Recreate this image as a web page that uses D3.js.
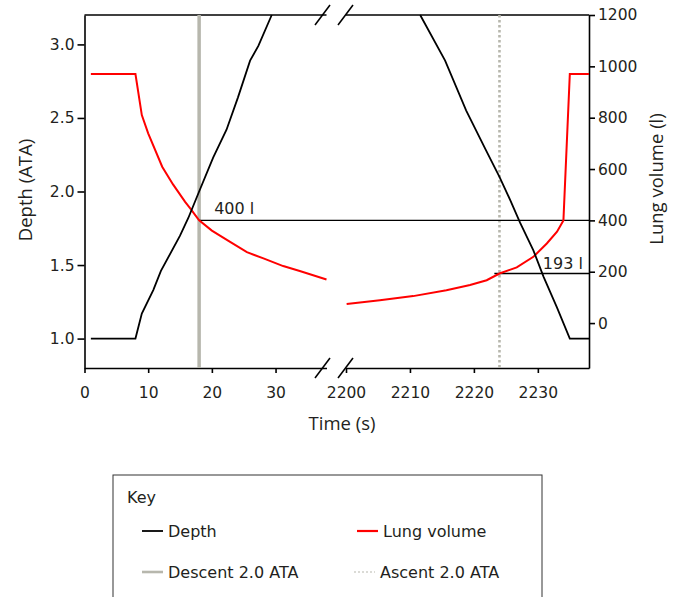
<!DOCTYPE html>
<html>
<head>
<meta charset="utf-8">
<script src="https://cdn.jsdelivr.net/npm/d3@7"></script>
<style>
    body { margin: 0; background: #fff; }
    .axis text { font-family: "DejaVu Sans", sans-serif; font-size: 15.5px; fill: #231f20; }
    .axis path, .axis line { stroke: #000; stroke-width: 1.6px; }
    .title { font-family: "Open Sans", sans-serif; font-size: 18.5px; fill: #231f20; }
    .label { font-family: "DejaVu Sans", sans-serif; font-size: 16px; fill: #231f20; }
    .depth-line { fill: none; stroke: #000; stroke-width: 1.8px; }
    .lung-line { fill: none; stroke: #ff0000; stroke-width: 2px; }
</style>
</head>
<body>
<div id="chart"></div>
<script>
// Dive profile: depth (ATA) and lung volume (l), time axis broken between 38 s and 2200 s

let width = 678;
let height = 597;

// Depth, descent part (left of the break)
let depthTimeDown = [1, 8, 9, 10.8, 12, 15, 16.3, 18, 20.2, 22.3, 24.1, 26, 27.3, 29.4];
let depthDown = [1.0, 1.0, 1.17, 1.33, 1.46, 1.70, 1.82, 2.0, 2.23, 2.42, 2.64, 2.89, 2.99, 3.2];

// Depth, ascent part (right of the break)
let depthTimeUp = [2211.6, 2215.5, 2218.8, 2221.9, 2224, 2225.7, 2227.2, 2229.3, 2230.9, 2233, 2235, 2238];
let depthUp = [3.2, 2.89, 2.55, 2.28, 2.1, 1.94, 1.79, 1.60, 1.42, 1.21, 1.0, 1.0];

// Lung volume
let lungTimeDown = [1, 8, 9, 10, 12.2, 13.9, 15.8, 16.6, 18, 20, 22.8, 25.5, 28.1, 31.2, 33.8, 38];
let lungDown = [970, 970, 810, 739, 609, 540, 472, 447, 400, 360, 317, 276, 252, 222, 203, 170];

let lungTimeUp = [2200.1, 2205.3, 2210.5, 2215.7, 2219.4, 2222, 2224, 2226.7, 2229.3, 2231.4, 2233, 2234, 2235, 2238];
let lungUp = [74, 89, 105, 128, 148, 167, 193, 217, 258, 310, 356, 400, 970, 970];

// Ticks
let timeTicksLeft = [0, 10, 20, 30];
let timeTicksRight = [2200, 2210, 2220, 2230];
let depthTicks = [1.0, 1.5, 2.0, 2.5, 3.0];
let lungTicks = [0, 200, 400, 600, 800, 1000, 1200];

// Reference lines (2.0 ATA) and annotations
let descentTime = 18;
let ascentTime = 2224;
let descentVolume = 400;
let ascentVolume = 193;
let ascentNoteStart = 2223.2;

let zip = function (xs, ys) {
    return xs.map(function (x, i) { return { t: x, v: ys[i] }; });
};

// Scales: two time segments, two y axes
let xLeft = d3.scaleLinear().domain([0, 38]).range([84.5, 326.5]);
let xRight = d3.scaleLinear().domain([2200, 2238]).range([346, 589]);
let yDepth = d3.scaleLinear().domain([0.8, 3.2]).range([368, 15]);
let yLung = d3.scaleLinear().domain([-175, 1200]).range([368, 15]);

let svg = d3.select("#chart")
    .append("svg")
    .attr("width", width)
    .attr("height", height);

// Axes
let plain = d3.format("d");
let xAxisLeft = d3.axisBottom(xLeft).tickValues(timeTicksLeft).tickFormat(plain).tickSize(5).tickSizeOuter(0).tickPadding(14);
let xAxisRight = d3.axisBottom(xRight).tickValues(timeTicksRight).tickFormat(plain).tickSize(5).tickSizeOuter(0).tickPadding(14);
let yAxisDepth = d3.axisLeft(yDepth).tickValues(depthTicks).tickFormat(d3.format(".1f")).tickSize(7).tickSizeOuter(0).tickPadding(3);
let yAxisLung = d3.axisRight(yLung).tickValues(lungTicks).tickFormat(plain).tickSize(6).tickSizeOuter(0).tickPadding(3);

svg.append("g").attr("class", "axis").attr("transform", "translate(0,368)").call(xAxisLeft);
svg.append("g").attr("class", "axis").attr("transform", "translate(0,368)").call(xAxisRight);
svg.append("g").attr("class", "axis").attr("transform", "translate(84.5,0)").call(yAxisDepth);
svg.append("g").attr("class", "axis").attr("transform", "translate(589,0)").call(yAxisLung);

// Top frame, also broken
[xLeft, xRight].forEach(function (s) {
    svg.append("line")
        .attr("x1", s.range()[0]).attr("x2", s.range()[1])
        .attr("y1", 15).attr("y2", 15)
        .attr("stroke", "#000").attr("stroke-width", 1.6);
});

// Break marks (two slashes at top and bottom)
let gap = xLeft.range()[1];
[15, 368].forEach(function (yy) {
    [gap - 4, gap + 19].forEach(function (cx) {
        svg.append("line")
            .attr("x1", cx - 7.5).attr("y1", yy + 10)
            .attr("x2", cx + 7.5).attr("y2", yy - 10)
            .attr("stroke", "#000").attr("stroke-width", 1.6);
    });
});

// Vertical 2.0 ATA lines
svg.append("line")
    .attr("x1", xLeft(descentTime)).attr("x2", xLeft(descentTime))
    .attr("y1", 15).attr("y2", 368)
    .attr("stroke", "#b7b7ad").attr("stroke-width", 3.5);

svg.append("line")
    .attr("x1", xRight(ascentTime)).attr("x2", xRight(ascentTime))
    .attr("y1", 15).attr("y2", 368)
    .attr("stroke", "#b7b7ad").attr("stroke-width", 2.6)
    .attr("stroke-dasharray", "2.5,2.5");

// Horizontal volume annotations
svg.append("line")
    .attr("x1", xLeft(descentTime)).attr("x2", 589)
    .attr("y1", yLung(descentVolume)).attr("y2", yLung(descentVolume))
    .attr("stroke", "#000").attr("stroke-width", 1.3);

svg.append("line")
    .attr("x1", xRight(ascentNoteStart)).attr("x2", 589)
    .attr("y1", yLung(ascentVolume)).attr("y2", yLung(ascentVolume))
    .attr("stroke", "#000").attr("stroke-width", 1.3);

svg.append("text")
    .attr("class", "label")
    .attr("x", xLeft(descentTime) + 15)
    .attr("y", yLung(descentVolume) - 6)
    .text(descentVolume + " l");

svg.append("text")
    .attr("class", "label")
    .attr("x", xRight(2230) + 5)
    .attr("y", yLung(ascentVolume) - 5)
    .text(ascentVolume + " l");

// Lines
let lineLeft = function (y) {
    return d3.line().x(function (d) { return xLeft(d.t); }).y(function (d) { return y(d.v); });
};
let lineRight = function (y) {
    return d3.line().x(function (d) { return xRight(d.t); }).y(function (d) { return y(d.v); });
};

svg.append("path").datum(zip(lungTimeDown, lungDown)).attr("class", "lung-line").attr("d", lineLeft(yLung));
svg.append("path").datum(zip(lungTimeUp, lungUp)).attr("class", "lung-line").attr("d", lineRight(yLung));
svg.append("path").datum(zip(depthTimeDown, depthDown)).attr("class", "depth-line").attr("d", lineLeft(yDepth));
svg.append("path").datum(zip(depthTimeUp, depthUp)).attr("class", "depth-line").attr("d", lineRight(yDepth));

// Axis titles
svg.append("text")
    .attr("class", "title")
    .attr("text-anchor", "middle")
    .attr("transform", "translate(32,190) rotate(-90)")
    .text("Depth (ATA)");

svg.append("text")
    .attr("class", "title")
    .attr("text-anchor", "middle")
    .attr("transform", "translate(663,179) rotate(-90)")
    .text("Lung volume (l)");

svg.append("text")
    .attr("class", "title")
    .attr("text-anchor", "middle")
    .attr("x", 342)
    .attr("y", 430)
    .text("Time (s)");

// Key box
let key = svg.append("g");
key.append("rect")
    .attr("x", 113).attr("y", 475)
    .attr("width", 429).attr("height", 140)
    .attr("fill", "none").attr("stroke", "#333").attr("stroke-width", 1);

key.append("text").attr("class", "label").attr("x", 127).attr("y", 503).text("Key");

let keyItems = [
    { name: "Depth", x: 142, y: 531, color: "#000", w: 1.8, dash: null },
    { name: "Lung volume", x: 357, y: 531, color: "#ff0000", w: 2.2, dash: null },
    { name: "Descent 2.0 ATA", x: 142, y: 572, color: "#b7b7ad", w: 2.6, dash: null },
    { name: "Ascent 2.0 ATA", x: 354, y: 572, color: "#b7b7ad", w: 1.2, dash: "2,2" }
];

keyItems.forEach(function (k) {
    key.append("line")
        .attr("x1", k.x).attr("x2", k.x + 21)
        .attr("y1", k.y).attr("y2", k.y)
        .attr("stroke", k.color).attr("stroke-width", k.w)
        .attr("stroke-dasharray", k.dash);
    key.append("text")
        .attr("class", "label")
        .attr("x", k.x + 26)
        .attr("y", k.y + 6)
        .text(k.name);
});
</script>
</body>
</html>
